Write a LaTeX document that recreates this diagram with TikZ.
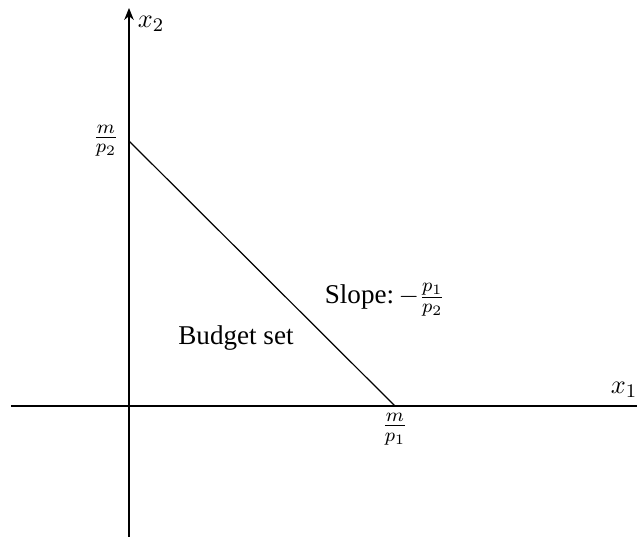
\documentclass[tikz,border=0pt]{standalone}
\usepackage{fontspec}
\setmainfont{Liberation Serif}
\usetikzlibrary{arrows.meta}
\begin{document}
\begin{tikzpicture}[x=0.01465cm,y=-0.01465cm,
  axis/.style={line width=0.6pt},
  lbl/.style={inner sep=1pt, font=\fontsize{11.3}{13.5}\selectfont}]
\useasboundingbox (0,0) rectangle (637,537);
\coordinate (O) at (129,406);
\coordinate (xl) at (11,406);
\coordinate (xr) at (637,406);
\coordinate (yb) at (129,537);
\coordinate (yt) at (129,8);
\coordinate (A) at (129,141);
\coordinate (B) at (395,406);
\draw[axis] (xl) -- (xr);
\draw[axis,-{Stealth[length=5pt,width=4pt]}] (yb) -- (yt);
\draw[line width=0.5pt] (A) -- (B);
\node[lbl] (x1) at (624,390) {$x_1$};
\node[lbl] (x2) at (151,24) {$x_2$};
\node[lbl,anchor=east] (m2) at ([xshift=-3pt]A) {$\frac{m}{p_2}$};
\node[lbl,anchor=north] (m1) at ([yshift=-2pt]B) {$\frac{m}{p_1}$};
\node[lbl,anchor=west] (slope) at (322,300) {Slope:\,$-\frac{p_1}{p_2}$};
\node[lbl] (bs) at (236,338) {Budget set};
\end{tikzpicture}
\end{document}
